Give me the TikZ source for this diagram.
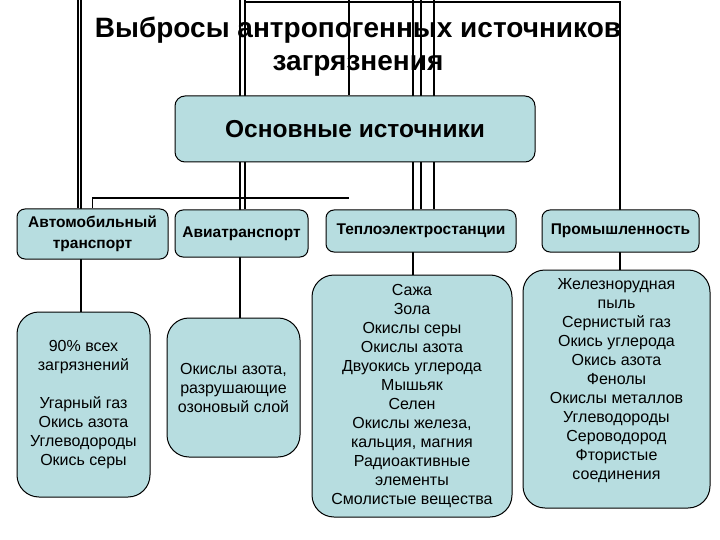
\documentclass[tikz,border=0pt]{standalone}
\usepackage{fontspec}
\setmainfont{Liberation Sans}
\usetikzlibrary{backgrounds}
\definecolor{boxfill}{RGB}{183,221,224}
\tikzset{
  box/.style={draw=black, line width=1pt, fill=boxfill, rounded corners=8pt, align=center, inner sep=0pt},
  head/.style={box, font=\bfseries\fontsize{15.5}{21}\selectfont},
  list/.style={box, rounded corners=22pt, font=\fontsize{16}{19}\selectfont},
  wire/.style={line width=1.5pt}
}

\begin{document}
\begin{tikzpicture}[x=1pt,y=-1pt]
  \useasboundingbox (0,0) rectangle (720,540);

  \node[anchor=base, font=\bfseries\fontsize{28}{33}\selectfont, align=center] (title) at (358,71) {Выбросы антропогенных источников\\загрязнения};

  \node[box, rounded corners=10pt, minimum width=360pt, minimum height=66pt, font=\bfseries\fontsize{24.5}{28}\selectfont] (main) at (355,129) {Основные источники};

  \node[head, minimum width=151pt, minimum height=50pt] (auto) at (92.5,234) {Автомобильный\\транспорт};
  \node[head, minimum width=133pt, minimum height=47pt] (avia) at (241.5,233.5) {Авиатранспорт};
  \node[head, minimum width=190pt, minimum height=42pt] (teplo) at (421,231) {Теплоэлектростанции};
  \node[head, minimum width=157pt, minimum height=42pt] (prom) at (620.5,231) {Промышленность};

  \node[list, minimum width=133pt, minimum height=185pt] (autolist) at (83.5,404.5) {90\% всех\\загрязнений\\[19pt]Угарный газ\\Окись азота\\Углеводороды\\Окись серы};
  \node[list, minimum width=133pt, minimum height=139pt] (avialist) at (233.5,387.5) {Окислы азота,\\разрушающие\\озоновый слой};
  \node[list, minimum width=200pt, minimum height=242pt] (teplolist) at (412,396) {Сажа\\Зола\\Окислы серы\\Окислы азота\\Двуокись углерода\\Мышьяк\\Селен\\Окислы железа,\\кальция, магния\\Радиоактивные\\элементы\\Смолистые вещества};
  \node[list, minimum width=187pt, minimum height=238pt, text depth=20pt] (promlist) at (616.5,389) {Железнорудная\\пыль\\Сернистый газ\\Окись углерода\\Окись азота\\Фенолы\\Окислы металлов\\Углеводороды\\Сероводород\\Фтористые\\соединения};

  \coordinate (a1) at (78,0);
  \coordinate (a2) at (81,0);
  \coordinate (b1) at (240,0);
  \coordinate (b2) at (245,2);
  \coordinate (c) at (349,0);
  \coordinate (d1) at (413,0);
  \coordinate (d2) at (421,0);
  \coordinate (d3) at (434,0);
  \coordinate (e) at (620,2);
  \coordinate (k) at (349,198);

  \begin{scope}[on background layer]
    \draw[wire] (a1) -- (a1 |- auto.north);
    \draw[wire] (a2) -- (a2 |- autolist.north);
    \draw[wire] (auto.north) |- (k);
    \draw[wire] (c) -- (c |- main.north);
    \draw[wire] (b1) -- (b1 |- avialist.north);
    \draw[wire] (b2 |- a1) -- (b2 |- avia.north);
    \draw[wire] (b2) -- (e) -- (e |- promlist.north);
    \draw[wire] (d1) -- (d1 |- teplolist.north);
    \draw[wire] (d2) -- (d2 |- teplo.north);
    \draw[wire] (d3) -- (d3 |- teplo.north);
  \end{scope}
\end{tikzpicture}
\end{document}
